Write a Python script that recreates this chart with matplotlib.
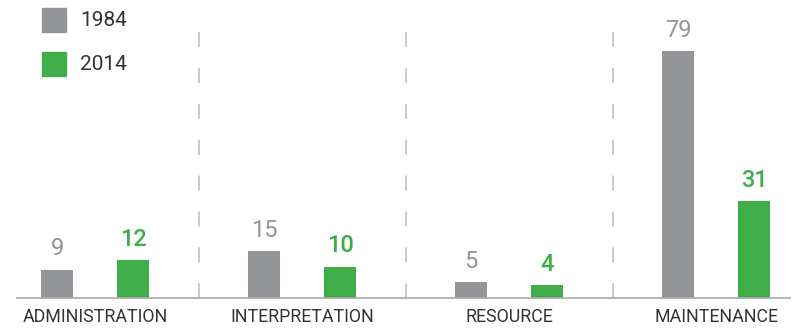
import numpy as np
import matplotlib.pyplot as plt

categories = ['ADMINISTRATION', 'INTERPRETATION', 'RESOURCE', 'MAINTENANCE']
vals_1984 = [9, 15, 5, 79]
vals_2014 = [12, 10, 4, 31]
years = ['1984', '2014']

gray = '#939598'
green = '#3fae49'

plt.rcParams['font.family'] = ['Roboto', 'DejaVu Sans']

fig = plt.figure(figsize=(7.98, 3.29), dpi=100)
ax = fig.add_axes([17 / 798, 31 / 329, 773 / 798, 298 / 329])

x = np.arange(len(categories))
off = 0.1836
w = 0.155
ax.bar(x - off, vals_1984, w, color=gray)
ax.bar(x + off, vals_2014, w, color=green)

for xi, v in zip(x, vals_1984):
    ax.text(xi - off, v + 3.0, str(v), ha='center', va='bottom', fontsize=17,
            color=gray)
for xi, v in zip(x, vals_2014):
    ax.text(xi + off, v + 3.0, str(v), ha='center', va='bottom', fontsize=17,
            color=green, fontweight='medium')

# dashed separators between groups
for s in x[:-1] + 0.5:
    ax.plot([s, s], [85.1, 0], color='#bbbbbb', lw=1.1, dashes=(9.8, 13.7))

ax.set_xlim(-0.377, 3.357)
ax.set_ylim(0, 95.3)
ax.set_xticks(x)
ax.set_xticklabels(categories, fontsize=12.8, color='#333333')
ax.tick_params(axis='x', length=0, pad=7)
ax.set_yticks([])
for side in ['top', 'right', 'left']:
    ax.spines[side].set_visible(False)
ax.spines['bottom'].set_color('#aaaaaa')
ax.spines['bottom'].set_linewidth(1.2)

# legend
for i, (yr, c) in enumerate(zip(years, [gray, green])):
    yp = 1 - (20 + 44 * i) / 329
    fig.patches.append(plt.Rectangle((42 / 798, yp - 12 / 329), 24 / 798, 24 / 329,
                                     transform=fig.transFigure, color=c))
    fig.text(80 / 798, yp, yr, fontsize=15, color='#333333', va='center')

fig.savefig('out.png', dpi=100)
